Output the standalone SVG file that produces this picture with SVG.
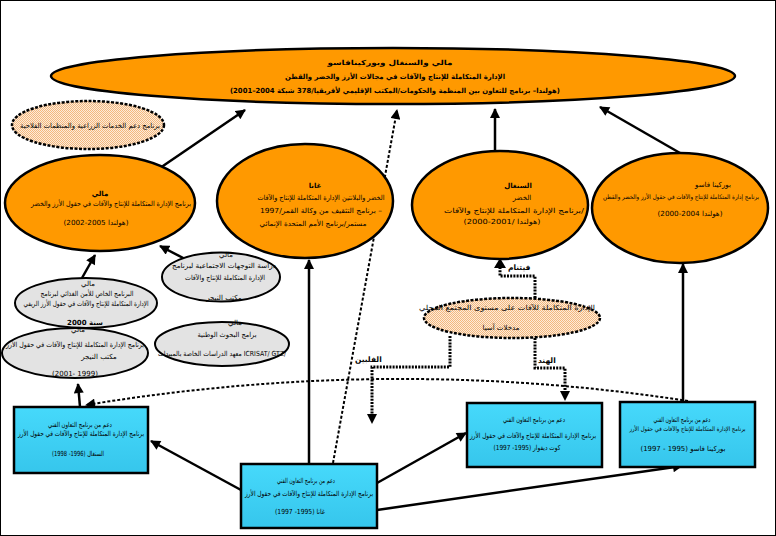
<svg xmlns="http://www.w3.org/2000/svg" width="776" height="536" viewBox="0 0 776 536">
<style>
.t{font-family:"DejaVu Sans",sans-serif;font-size:7px;fill:#000;text-anchor:middle}
.s{font-size:6.2px}
.b{font-weight:bold}
.or{fill:#FF9900;stroke:#000;stroke-width:2.5}
.gr{fill:#E3E3E3;stroke:#000;stroke-width:2}
.pe{fill:url(#peach);stroke:#000;stroke-width:2.5;stroke-dasharray:3 1.5}
.box{fill:url(#blue);stroke:#000;stroke-width:2.5}
.ln{stroke:#000;stroke-width:2.5;fill:none;marker-end:url(#ah)}
.dt{stroke:#000;stroke-width:3;stroke-dasharray:2 1.2;fill:none}
.da{stroke:#000;stroke-width:2;stroke-dasharray:3 2;fill:none;marker-end:url(#ah)}
.lb{font-family:"DejaVu Sans",sans-serif;font-size:7.5px;fill:#000;font-weight:bold}
</style>
<defs>
<marker id="ah" viewBox="0 0 10 10" refX="9" refY="5" markerWidth="11" markerHeight="10" markerUnits="userSpaceOnUse" orient="auto"><path d="M0,0 L10,5 L0,10 z" fill="#000"/></marker>
<pattern id="peach" width="2" height="2" patternUnits="userSpaceOnUse"><rect width="2" height="2" fill="#FDEBDA"/><rect width="1" height="1" fill="#F3B87E"/><rect x="1" y="1" width="1" height="1" fill="#F3B87E"/></pattern>
<linearGradient id="blue" x1="0" y1="0" x2="0" y2="1"><stop offset="0" stop-color="#46D9FB"/><stop offset="1" stop-color="#36C6EC"/></linearGradient>
</defs>
<rect x="0.5" y="0.5" width="775" height="535" fill="#fff" stroke="#000" stroke-width="1"/>

<g id="connectors">
<line class="ln" x1="160" y1="168" x2="245" y2="110"/>
<line class="ln" x1="495" y1="151" x2="495" y2="109"/>
<line class="ln" x1="680" y1="153" x2="600" y2="107"/>
<line class="ln" x1="82" y1="278" x2="95" y2="255"/>
<line class="ln" x1="187" y1="260" x2="160" y2="246"/>
<line class="ln" x1="309" y1="464" x2="309" y2="260"/>
<line class="da" x1="333" y1="463" x2="397" y2="110"/>
<line class="ln" x1="80" y1="407" x2="78" y2="384"/>
<line class="ln" x1="241" y1="490" x2="151" y2="441"/>
<line class="ln" x1="377" y1="483" x2="466" y2="433"/>
<line class="ln" x1="377" y1="510" x2="682" y2="466"/>
<line class="ln" x1="683" y1="402" x2="683" y2="264"/>
<path class="da" d="M688 401 Q 390 355 86 405"/>
<polyline class="dt" points="535,298 535,276 500,276 500,266"/>
<path d="M494,268 L500,258 L506,268 z" fill="#000"/>
<polyline class="dt" points="450,336 450,367 372,367 372,415"/>
<path d="M367,414 L372,424 L377,414 z" fill="#000"/>
<polyline class="dt" points="535,338 535,368 565,368 565,392"/>
<path d="M560,391 L565,401 L570,391 z" fill="#000"/>
<text class="lb" x="508" y="270">فيتنام</text>
<text class="lb" x="355" y="362">الفلبين</text>
<text class="lb" x="538" y="363">الهند</text>
</g>

<g id="top">
<ellipse class="or" cx="393" cy="76" rx="342" ry="28" stroke-width="3"/>
<text class="t b" x="390" y="65" textLength="125" lengthAdjust="spacingAndGlyphs">مالي والسنغال وبوركينافاسو</text>
<text class="t b" x="395" y="79" textLength="220" lengthAdjust="spacingAndGlyphs">الإدارة المتكاملة للإنتاج والآفات في مجالات الأرز والخضر والقطن</text>
<text class="t b" x="395" y="93" textLength="330" lengthAdjust="spacingAndGlyphs">(2001–2004 هولندا– برنامج للتعاون بين المنظمة والحكومات/المكتب الإقليمي لأفريقيا/378 شبكة)</text>
</g>

<g id="support">
<ellipse class="pe" cx="88" cy="125" rx="76" ry="24"/>
<text class="t" x="90" y="128" textLength="140" lengthAdjust="spacingAndGlyphs">برنامج دعم الخدمات الزراعية والمنظمات الفلاحية</text>
</g>

<g id="mali">
<ellipse class="or" cx="100" cy="203" rx="95" ry="48"/>
<text class="t b" x="100" y="196">مالي</text>
<text class="t" x="111" y="206" textLength="160" lengthAdjust="spacingAndGlyphs">برنامج الإدارة المتكاملة للإنتاج والآفات في حقول الأرز والخضر</text>
<text class="t" x="96" y="225" textLength="65" lengthAdjust="spacingAndGlyphs">(2002-2005 هولندا)</text>
</g>

<g id="ghana">
<ellipse class="or" cx="305" cy="201" rx="88" ry="57"/>
<text class="t b" x="315" y="188">غانا</text>
<text class="t" x="321" y="200" textLength="127" lengthAdjust="spacingAndGlyphs">الخضر والبلانتين الإدارة المتكاملة للإنتاج والآفات</text>
<text class="t" x="321" y="213" textLength="122" lengthAdjust="spacingAndGlyphs">برنامج التثقيف من وكالة القمر/1997 –</text>
<text class="t" x="313" y="226" textLength="107" lengthAdjust="spacingAndGlyphs">مستمر/برنامج الأمم المتحدة الإنمائي</text>
</g>

<g id="senegal">
<ellipse class="or" cx="500" cy="205" rx="88" ry="54"/>
<text class="t b" x="518" y="188">السنغال</text>
<text class="t" x="522" y="200">الخضر</text>
<text class="t" x="514" y="213" textLength="140" lengthAdjust="spacingAndGlyphs">برنامج الإدارة المتكاملة للإنتاج والآفات/</text>
<text class="t" x="502" y="224" textLength="77" lengthAdjust="spacingAndGlyphs">(2000-2001/ هولندا)</text>
</g>

<g id="burkina">
<ellipse class="or" cx="680" cy="208" rx="88" ry="55"/>
<text class="t" x="713" y="187">بوركينا فاسو</text>
<text class="t s" x="681" y="199" textLength="156" lengthAdjust="spacingAndGlyphs">برنامج إدارة المتكاملة للإنتاج والآفات في حقول الأرز والخضر والقطن</text>
<text class="t" x="690" y="216" textLength="65" lengthAdjust="spacingAndGlyphs">(2000-2004 هولندا)</text>
</g>

<g id="mali-spfs">
<ellipse class="gr" cx="86" cy="303" rx="71" ry="25"/>
<text class="t" x="88" y="286">مالي</text>
<text class="t" x="87" y="296" textLength="93" lengthAdjust="spacingAndGlyphs">البرنامج الخاص للأمن الغذائي لبرنامج</text>
<text class="t" x="86" y="306" textLength="125" lengthAdjust="spacingAndGlyphs">الإدارة المتكاملة للإنتاج والآفات في حقول الأرز الريفي</text>
<text class="t b" x="85" y="325">سنة 2000</text>
</g>

<g id="mali-niger-office">
<ellipse class="gr" cx="75" cy="353" rx="73" ry="25"/>
<text class="t" x="78" y="332">مالي</text>
<text class="t" x="75" y="347" textLength="138" lengthAdjust="spacingAndGlyphs">برنامج الإدارة المتكاملة للإنتاج والآفات في حقول الأرز</text>
<text class="t" x="99" y="359">مكتب النيجر</text>
<text class="t" x="75" y="376">(2001- 1999)</text>
</g>

<g id="mali-study">
<ellipse class="gr" cx="221" cy="277" rx="59" ry="24.5"/>
<text class="t" x="226" y="257">مالي</text>
<text class="t" x="224" y="268" textLength="104" lengthAdjust="spacingAndGlyphs">دراسة التوجهات الاجتماعية لبرنامج</text>
<text class="t" x="225" y="280" textLength="80" lengthAdjust="spacingAndGlyphs">الإدارة المتكاملة للإنتاج والآفات</text>
<text class="t" x="224" y="300">مكتب النيجر</text>
</g>

<g id="mali-icrisat">
<ellipse class="gr" cx="222" cy="344" rx="67" ry="22"/>
<text class="t" x="235" y="325">مالي</text>
<text class="t" x="227" y="337" textLength="59" lengthAdjust="spacingAndGlyphs">برامج البحوث الوطنية</text>
<text class="t" x="222" y="356" textLength="128" lengthAdjust="spacingAndGlyphs">معهد الدراسات الخاصة بالمبيدات ICRISAT/ GTZ/</text>
</g>

<g id="asia">
<ellipse class="pe" cx="512" cy="318" rx="88" ry="20"/>
<text class="t" x="507" y="310" textLength="176" lengthAdjust="spacingAndGlyphs">الإدارة المتكاملة للآفات على مستوى المجتمع المحلي</text>
<text class="t" x="501" y="330">مدخلات آسيا</text>
</g>

<g id="tcp-senegal">
<rect class="box" x="14" y="407" width="134" height="66"/>
<text class="t" x="80" y="427" textLength="64" lengthAdjust="spacingAndGlyphs">دعم من برنامج التعاون الفني</text>
<text class="t" x="81" y="436" textLength="126" lengthAdjust="spacingAndGlyphs">برنامج الإدارة المتكاملة للإنتاج والآفات في حقول الأرز</text>
<text class="t" x="78" y="456" textLength="52" lengthAdjust="spacingAndGlyphs">السنغال (1996- 1998)</text>
</g>

<g id="tcp-ghana">
<rect class="box" x="241" y="464" width="136" height="64"/>
<text class="t" x="306" y="483" textLength="58" lengthAdjust="spacingAndGlyphs">دعم من برنامج التعاون الفني</text>
<text class="t" x="309" y="496" textLength="128" lengthAdjust="spacingAndGlyphs">برنامج الإدارة المتكاملة للإنتاج والآفات في حقول الأرز</text>
<text class="t" x="300" y="514" textLength="50" lengthAdjust="spacingAndGlyphs">غانا (1995- 1997)</text>
</g>

<g id="tcp-cotedivoire">
<rect class="box" x="467" y="403" width="135" height="64"/>
<text class="t" x="534" y="422" textLength="62" lengthAdjust="spacingAndGlyphs">دعم من برنامج التعاون الفني</text>
<text class="t" x="533" y="438" textLength="126" lengthAdjust="spacingAndGlyphs">برنامج الإدارة المتكاملة للإنتاج والآفات في حقول الأرز</text>
<text class="t" x="527" y="450" textLength="67" lengthAdjust="spacingAndGlyphs">كوت ديفوار (1995- 1997)</text>
</g>

<g id="tcp-burkina">
<rect class="box" x="620" y="402" width="135" height="65"/>
<text class="t" x="682" y="422" textLength="57" lengthAdjust="spacingAndGlyphs">دعم من برنامج التعاون الفني</text>
<text class="t s" x="687.5" y="431" textLength="116" lengthAdjust="spacingAndGlyphs">برنامج الإدارة المتكاملة للإنتاج والآفات في حقول الأرز</text>
<text class="t" x="683" y="451" textLength="85" lengthAdjust="spacingAndGlyphs">بوركينا فاسو (1995 - 1997)</text>
</g>
</svg>
